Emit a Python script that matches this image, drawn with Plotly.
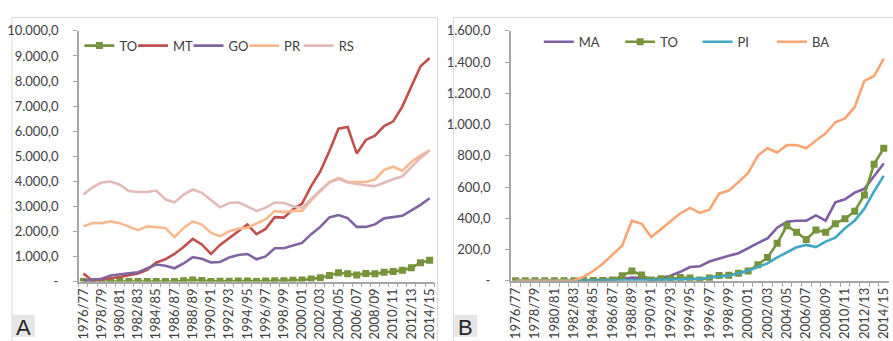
import plotly.graph_objects as go

W, H = 893, 341

years = ["1976/77","1977/78","1978/79","1979/80","1980/81","1981/82","1982/83","1983/84",
         "1984/85","1985/86","1986/87","1987/88","1988/89","1989/90","1990/91","1991/92",
         "1992/93","1993/94","1994/95","1995/96","1996/97","1997/98","1998/99","1999/00",
         "2000/01","2001/02","2002/03","2003/04","2004/05","2005/06","2006/07","2007/08",
         "2008/09","2009/10","2010/11","2011/12","2012/13","2013/14","2014/15"]

TO = [0, 0, 0, 0, 0, 0, 0, 2, 3, 3, 5, 32, 63, 38, 6, 14, 12, 22, 18, 6, 18, 34, 36, 48,
      63, 103, 150, 240, 352, 311, 265, 325, 311, 366, 398, 446, 550, 747, 849]
MT = [320, 30, 80, 120, 180, 250, 320, 470, 760, 890, 1100, 1380, 1700, 1480, 1100, 1460,
      1730, 1990, 2280, 1890, 2100, 2570, 2550, 2880, 3110, 3810, 4390, 5210, 6100, 6170,
      5110, 5650, 5820, 6200, 6390, 6980, 7810, 8590, 8920]
GO = [30, 60, 110, 240, 300, 330, 370, 530, 680, 630, 530, 720, 970, 910, 760, 780, 960,
      1060, 1100, 890, 1000, 1330, 1330, 1440, 1540, 1890, 2180, 2560, 2650, 2530, 2180,
      2180, 2280, 2520, 2580, 2620, 2840, 3060, 3320]
PR = [2200, 2330, 2330, 2400, 2330, 2180, 2050, 2200, 2180, 2140, 1770, 2140, 2400, 2270,
      1950, 1800, 2010, 2110, 2140, 2330, 2490, 2810, 2770, 2820, 2820, 3240, 3620, 3970,
      4130, 3980, 3970, 3970, 4070, 4450, 4580, 4420, 4770, 5020, 5230]
RS = [3470, 3760, 3950, 3990, 3860, 3610, 3570, 3570, 3630, 3280, 3150, 3470, 3670, 3540,
      3250, 2960, 3130, 3160, 3000, 2810, 2950, 3150, 3130, 3000, 2940, 3310, 3640, 3950,
      4090, 3950, 3880, 3840, 3800, 3950, 4080, 4200, 4580, 4930, 5230]
MA = [0, 0, 0, 0, 0, 1, 2, 3, 5, 6, 8, 12, 22, 20, 8, 18, 33, 58, 89, 93, 124, 144, 160,
      177, 211, 242, 272, 340, 379, 385, 385, 419, 385, 503, 522, 565, 589, 667, 751]
PI = [0, 0, 0, 0, 0, 0, 0, 0, 2, 3, 3, 4, 3, 4, 5, 7, 9, 11, 13, 14, 22, 28, 33, 48, 65,
      89, 112, 150, 180, 215, 230, 216, 251, 276, 337, 386, 462, 573, 672]
BA = [0, 0, 0, 0, 0, 0, 2, 25, 63, 110, 165, 226, 385, 365, 280, 328, 381, 432, 467, 435,
      456, 558, 578, 632, 690, 802, 849, 822, 869, 869, 849, 898, 944, 1015, 1040, 1113,
      1280, 1311, 1423]

yticksA = [0, 1000, 2000, 3000, 4000, 5000, 6000, 7000, 8000, 9000, 10000]
ytextA = ["-", "1.000,0", "2.000,0", "3.000,0", "4.000,0", "5.000,0", "6.000,0",
          "7.000,0", "8.000,0", "9.000,0", "10.000,0"]
yticksB = [0, 200, 400, 600, 800, 1000, 1200, 1400, 1600]
ytextB = ["-", "200,0", "400,0", "600,0", "800,0", "1.000,0", "1.200,0", "1.400,0", "1.600,0"]

C_TO = "#77933C"
C_MT = "#C0504D"
C_GO = "#8064A2"
C_PR = "#F9B98F"
C_RS = "#E3BAB8"
C_MA = "#7E5FA3"
C_PI = "#3FA8C4"
C_BA = "#F9A673"

def px_x(p):
    return p / W

def px_y(p):
    return 1 - p / H

FONT = "Lato"
legfont = dict(family=FONT, size=13, color="#404040")

fig = go.Figure()
LW = 2.6
legend_layouts = {}
count = [0]

def add(name, y, color, xa, ya, leg_x, leg_y, marker=False):
    count[0] += 1
    key = "legend" if count[0] == 1 else f"legend{count[0]}"
    fig.add_trace(go.Scatter(
        x=years, y=y, name=name, xaxis=xa, yaxis=ya, legend=key,
        mode="lines+markers" if marker else "lines",
        line=dict(color=color, width=LW),
        marker=dict(symbol="square", size=7, color=color) if marker else None,
    ))
    legend_layouts[key] = dict(orientation="h", x=px_x(leg_x - 11), y=px_y(leg_y),
                               yanchor="middle", xanchor="left",
                               bgcolor="rgba(0,0,0,0)", font=legfont, itemwidth=30)

LYA, LYB = 39.5, 35.5
add("TO", TO, C_TO, "x", "y", 87, LYA, True)
add("MT", MT, C_MT, "x", "y", 141, LYA)
add("GO", GO, C_GO, "x", "y", 197, LYA)
add("PR", PR, C_PR, "x", "y", 253, LYA)
add("RS", RS, C_RS, "x", "y", 308, LYA)

add("MA", MA, C_MA, "x2", "y2", 550, LYB)
add("TO", TO, C_TO, "x2", "y2", 632, LYB, True)
add("PI", PI, C_PI, "x2", "y2", 710, LYB)
add("BA", BA, C_BA, "x2", "y2", 785, LYB)

tickfont = dict(family=FONT, size=13, color="#404040")
xtext = [y if i % 2 == 0 else "" for i, y in enumerate(years)]

xcommon = dict(type="category", tickmode="array", tickvals=years, ticktext=xtext,
               tickson="boundaries", ticks="outside", ticklen=4, tickcolor="#A6A6A6",
               tickwidth=1, tickangle=-90, tickfont=tickfont, showline=True,
               linecolor="#A6A6A6", linewidth=1.5, showgrid=False, zeroline=False,
               range=[-0.5, 38.5], fixedrange=True)
ycommon = dict(tickmode="array", ticks="outside", ticklen=4, tickcolor="#A6A6A6",
               tickwidth=1, tickfont=tickfont, showline=True, linecolor="#A6A6A6",
               linewidth=1.5, showgrid=False, zeroline=False, fixedrange=True,
               ticklabelstandoff=12)

fig.update_layout(
    width=W, height=H, margin=dict(l=0, r=0, t=0, b=0),
    paper_bgcolor="white", plot_bgcolor="white",
    font=dict(family=FONT, size=13, color="#404040"),
    xaxis=dict(domain=[px_x(75.4), px_x(433.6)], anchor="y", **xcommon),
    yaxis=dict(domain=[px_y(287), px_y(24)], anchor="x", range=[0, 10000],
               tickvals=yticksA, ticktext=ytextA, **ycommon),
    xaxis2=dict(domain=[px_x(510.8), px_x(891.6)], anchor="y2", **xcommon),
    yaxis2=dict(domain=[px_y(286.3), px_y(24)], anchor="x2", range=[0, 1600],
                tickvals=yticksB, ticktext=ytextB, **ycommon),
    showlegend=True,
    **legend_layouts,
)

# Panel frames
fig.add_shape(type="rect", xref="paper", yref="paper", x0=px_x(8), x1=px_x(437),
              y0=px_y(360), y1=px_y(10), line=dict(color="#D9D9D9", width=1), layer="below")
fig.add_shape(type="rect", xref="paper", yref="paper", x0=px_x(453), x1=px_x(910),
              y0=px_y(360), y1=px_y(10), line=dict(color="#D9D9D9", width=1), layer="below")
# Panel labels
for x0, lab in [(8, "A"), (454, "B")]:
    fig.add_shape(type="rect", xref="paper", yref="paper", x0=px_x(x0), x1=px_x(x0 + 23),
                  y0=px_y(345), y1=px_y(322), line=dict(width=0), fillcolor="#E6E6E6",
                  layer="below")
    fig.add_annotation(x=px_x(x0 + 11.5), y=px_y(335), xref="paper", yref="paper",
                       text=lab, showarrow=False, xanchor="center", yanchor="middle",
                       font=dict(family="Liberation Sans", size=22, color="#262626"))

fig.write_html("out.html")
